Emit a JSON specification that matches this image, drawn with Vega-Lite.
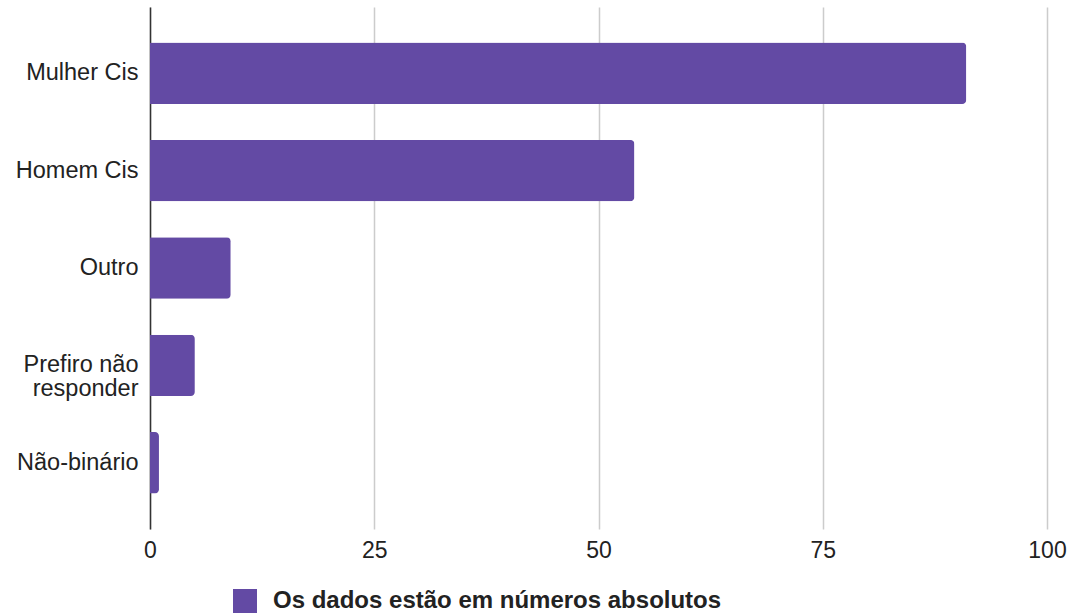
{
  "$schema": "https://vega.github.io/schema/vega-lite/v6.json",
  "width": 897,
  "height": 522,
  "autosize": {"type": "none"},
  "padding": {"left": 150, "top": 7, "right": 33, "bottom": 87},
  "background": "white",
  "config": {"view": {"stroke": null}, "font": "Liberation Sans"},
  "data": {
    "values": [
      {"categoria": "Mulher Cis", "valor": 91, "serie": "Os dados estão em números absolutos"},
      {"categoria": "Homem Cis", "valor": 54, "serie": "Os dados estão em números absolutos"},
      {"categoria": "Outro", "valor": 9, "serie": "Os dados estão em números absolutos"},
      {"categoria": "Prefiro não responder", "valor": 5, "serie": "Os dados estão em números absolutos"},
      {"categoria": "Não-binário", "valor": 1, "serie": "Os dados estão em números absolutos"}
    ]
  },
  "mark": {"type": "bar", "cornerRadiusEnd": 4},
  "encoding": {
    "y": {
      "field": "categoria",
      "type": "nominal",
      "sort": null,
      "scale": {"paddingInner": 0.37, "paddingOuter": 0.365},
      "axis": {
        "title": null,
        "ticks": false,
        "domainColor": "#333333",
        "domainWidth": 1.5,
        "labelFontSize": 23.5,
        "labelColor": "#222222",
        "labelPadding": 12,
        "labelLineHeight": 24,
        "labelExpr": "datum.value == 'Prefiro não responder' ? ['Prefiro não', 'responder'] : datum.label"
      }
    },
    "x": {
      "field": "valor",
      "type": "quantitative",
      "scale": {"domain": [0, 100]},
      "axis": {
        "title": null,
        "values": [0, 25, 50, 75, 100],
        "domain": false,
        "ticks": false,
        "gridColor": "#cccccc",
        "gridWidth": 1.5,
        "labelFontSize": 23,
        "labelColor": "#222222",
        "labelPadding": 10,
        "labelFlush": false
      }
    },
    "color": {
      "field": "serie",
      "type": "nominal",
      "scale": {"range": ["#634aa4"]},
      "legend": {
        "title": null,
        "orient": "none",
        "legendX": 83,
        "legendY": 582,
        "padding": 0,
        "symbolType": "square",
        "symbolSize": 576,
        "symbolStrokeWidth": 0,
        "labelFontSize": 24,
        "labelFontWeight": "bold",
        "labelColor": "#222222",
        "labelOffset": 16,
        "labelLimit": 700
      }
    }
  }
}
